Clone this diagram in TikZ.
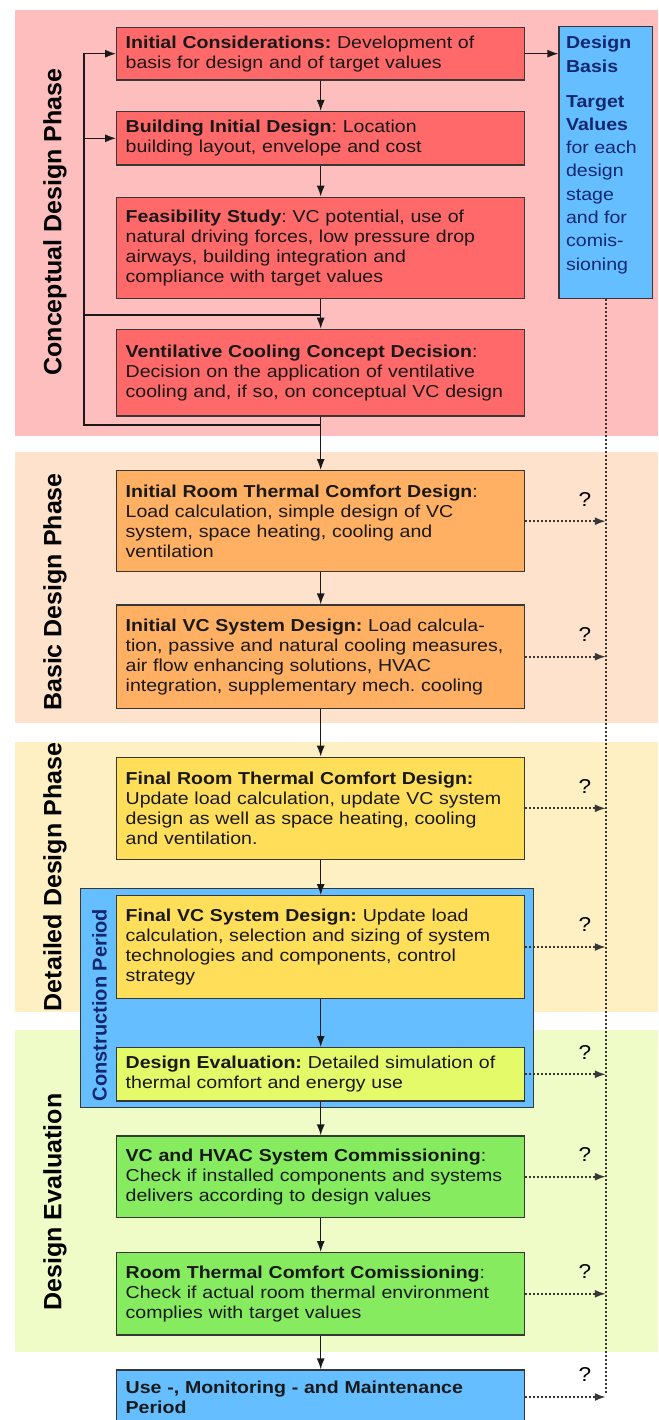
\documentclass[tikz,border=0pt]{standalone}
\usepackage{fontspec}
\setmainfont{Liberation Sans}
\newfontfamily\boxfont[FakeStretch=1.13]{Liberation Sans}
\usetikzlibrary{arrows.meta}
\frenchspacing

\definecolor{bandconcept}{RGB}{255,190,190}
\definecolor{bandbasic}{RGB}{255,226,204}
\definecolor{banddetail}{RGB}{255,240,196}
\definecolor{bandeval}{RGB}{240,252,200}
\definecolor{fillconcept}{RGB}{255,105,105}
\definecolor{fillbasic}{RGB}{255,176,98}
\definecolor{filldetail}{RGB}{255,222,90}
\definecolor{fillcheck}{RGB}{228,250,105}
\definecolor{fillcommis}{RGB}{135,235,95}
\definecolor{fillblue}{RGB}{100,190,255}
\definecolor{linegray}{RGB}{55,55,55}
\definecolor{navytext}{RGB}{20,40,110}

\begin{document}
\begin{tikzpicture}[
  x=1pt, y=-1pt,
  stage/.style={draw=linegray, line width=1.3pt, rectangle, text width=390pt,
                inner xsep=9pt, inner ysep=2pt, align=left, text=black!90,
                font=\boxfont\fontsize{17.3}{20}\selectfont},
  concept/.style={stage, fill=fillconcept},
  basic/.style={stage, fill=fillbasic},
  detail/.style={stage, fill=filldetail},
  check/.style={stage, fill=fillcheck},
  commis/.style={stage, fill=fillcommis},
  usebox/.style={stage, fill=fillblue},
  phase/.style={rotate=90, font=\fontsize{25}{30}\selectfont\bfseries},
  qmark/.style={font=\boxfont\fontsize{20}{22}\selectfont, inner sep=0pt},
  arr/.style={-{Latex[length=11pt,width=8pt]}, line width=1.3pt, black!90},
  line/.style={-, line width=1.3pt, black!90},
  darr/.style={-{Latex[length=11pt,width=8pt]}, line width=1.7pt, linegray,
               dash pattern=on 2pt off 2pt},
  dline/.style={-, line width=1.7pt, linegray, dash pattern=on 2pt off 2pt}
]
\useasboundingbox (0,0) rectangle (658,1420);
\clip (0,0) rectangle (658,1420);

% --- phase bands -------------------------------------------------------------
\fill[bandconcept] (15,10)   rectangle (658,436);
\fill[bandbasic]   (15,452)  rectangle (658,723);
\fill[banddetail]  (15,742)  rectangle (658,1012);
\fill[bandeval]    (15,1030) rectangle (658,1352);

\node[phase] (pconcept) at (55,222)  {Conceptual Design Phase};
\node[phase] (pbasic)   at (55,592)  {Basic Design Phase};
\node[phase] (pdetail)  at (55,877)  {Detailed Design Phase};
\node[phase] (peval)    at (55,1202) {Design Evaluation};

% --- construction period -----------------------------------------------------
\node[draw=linegray, line width=1.3pt, fill=fillblue, minimum width=453.2pt,
      minimum height=219pt] (cp) at (307.2,997.8) {};
\node[rotate=90, text=navytext, font=\fontsize{20}{24}\selectfont\bfseries]
  (cplabel) at (99.5,1005) {Construction Period};

% --- design basis ------------------------------------------------------------
\node[draw=linegray, line width=1.3pt, fill=fillblue, minimum width=93.5pt,
      minimum height=271.6pt] (db) at (605.8,162.5) {};
\node[anchor=north west, inner sep=0pt, align=left, text=navytext,
      font=\boxfont\fontsize{17.3}{23.3}\selectfont]
  (dbtext) at ([xshift=7.5pt,yshift=-10pt]db.north west)
  {\textbf{Design}\\\textbf{Basis}\\[11.7pt]\textbf{Target}\\\textbf{Values}\\
   for each\\design\\stage\\and for\\comis-\\sioning};

% --- stages ------------------------------------------------------------------
\node[concept, minimum height=52.7pt] (b1) at (320.7,53.7)
  {\textbf{Initial Considerations:} Development of\\
   basis for design and of target values};
\node[concept, minimum height=53.3pt] (b2) at (320.7,138.3)
  {\textbf{Building Initial Design}: Location\\
   building layout, envelope and cost};
\node[concept, minimum height=101pt] (b3) at (320.7,247.8)
  {\textbf{Feasibility Study}: VC potential, use of\\
   natural driving forces, low pressure drop\\
   airways, building integration and\\
   compliance with target values};
\node[concept, minimum height=86.7pt] (b4) at (320.7,372.7)
  {\textbf{Ventilative Cooling Concept Decision}:\\
   Decision on the application of ventilative\\
   cooling and, if so, on conceptual VC design};

\node[basic, minimum height=101pt] (b5) at (320.7,521.2)
  {\textbf{Initial Room Thermal Comfort Design}:\\
   Load calculation, simple design of VC\\
   system, space heating, cooling and\\
   ventilation};
\node[basic, minimum height=103.3pt] (b6) at (320.7,656.7)
  {\textbf{Initial VC System Design:} Load calcula-\\
   tion, passive and natural cooling measures,\\
   air flow enhancing solutions, HVAC\\
   integration, supplementary mech. cooling};

\node[detail, minimum height=102pt] (b7) at (320.7,808.3)
  {\textbf{Final Room Thermal Comfort Design:}\\
   Update load calculation, update VC system\\
   design as well as space heating, cooling\\
   and ventilation.};
\node[detail, minimum height=102.6pt] (b8) at (320.7,947)
  {\textbf{Final VC System Design:} Update load\\
   calculation, selection and sizing of system\\
   technologies and components, control\\
   strategy};

\node[check, minimum height=53.3pt] (b9) at (320.7,1074.3)
  {\textbf{Design Evaluation:} Detailed simulation of\\
   thermal comfort and energy use};
\node[commis, minimum height=81.3pt] (b10) at (320.7,1176.7)
  {\textbf{VC and HVAC System Commissioning}:\\
   Check if installed components and systems\\
   delivers according to design values};
\node[commis, minimum height=82.3pt] (b11) at (320.7,1293.8)
  {\textbf{Room Thermal Comfort Comissioning}:\\
   Check if actual room thermal environment\\
   complies with target values};
\node[usebox, minimum height=54pt] (b12) at (320.7,1397)
  {\textbf{Use -, Monitoring - and Maintenance}\\
   \textbf{Period}};

% --- flow --------------------------------------------------------------------
\foreach \a/\b in {b1/b2,b2/b3,b3/b4,b4/b5,b5/b6,b6/b7,b7/b8,b8/b9,b9/b10,b10/b11,b11/b12}
  \draw[arr] (\a) -- (\b);

\draw[arr] (b1.east) -- (b1.east -| db.west);

% feedback loop on the left
\coordinate (fbbot) at (84,425);
\coordinate (fbmid) at (84,315);
\draw[line] (b4.south |- fbbot) -- (fbbot) -- (fbmid);
\draw[line] (fbmid) -- (b3.south |- fbmid);
\draw[arr] (fbmid) |- (b1.west);
\draw[arr] (fbmid) |- (b2.west);

% --- target value checks -----------------------------------------------------
\coordinate (tend) at (605.8,1393);
\draw[dline] (db.south) -- (tend);
\foreach \s in {b5,b6,b7,b8,b9,b10,b11,b12} {
  \draw[darr] (\s.east) -- (\s.east -| db.south);
  \path (\s.east -| db.south) ++(-21,-22) node[qmark] (q\s) {?};
}
\end{tikzpicture}
\end{document}
